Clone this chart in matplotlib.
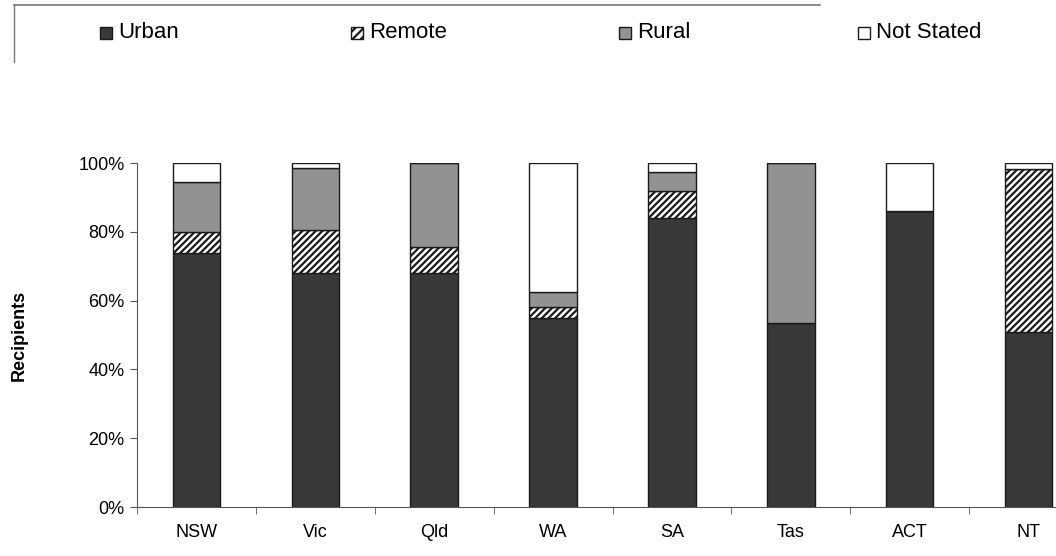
import matplotlib
matplotlib.use("Agg")
import matplotlib.pyplot as plt
from matplotlib.patches import Rectangle
from matplotlib.lines import Line2D
import numpy as np

plt.rcParams['font.family'] = ['Liberation Sans', 'DejaVu Sans']
plt.rcParams['hatch.linewidth'] = 1.6

states = ["NSW", "Vic", "Qld", "WA", "SA", "Tas", "ACT", "NT"]
urban = [73.8, 68.0, 68.0, 55.0, 84.0, 53.5, 86.0, 51.0]
remote = [6.2, 12.5, 7.6, 3.0, 8.0, 0.0, 0.0, 47.3]
rural = [14.5, 18.0, 24.4, 4.5, 5.5, 46.5, 0.0, 0.0]
not_stated = [5.5, 1.5, 0.0, 37.5, 2.5, 0.0, 14.0, 1.7]
series_names = ["Urban", "Remote", "Rural", "Not Stated"]
yticks = [0, 20, 40, 60, 80, 100]

W, H = 1056, 556
fig = plt.figure(figsize=(W / 100, H / 100), dpi=100)
ax = fig.add_axes([137 / W, (H - 507) / H, (1088 - 137) / W, 344 / H])

x = np.arange(len(states))
bw = 0.40
styles = [
    dict(color="#383838", edgecolor="#1a1a1a", hatch=None),
    dict(color="white", edgecolor="#1a1a1a", hatch="/////"),
    dict(color="#929292", edgecolor="#1a1a1a", hatch=None),
    dict(color="white", edgecolor="#1a1a1a", hatch=None),
]
bottom = np.zeros(len(states))
for vals, st in zip([urban, remote, rural, not_stated], styles):
    v = np.array(vals)
    ax.bar(x, v, bw, bottom=bottom, color=st["color"], edgecolor=st["edgecolor"],
           hatch=st["hatch"], linewidth=1.0)
    bottom += v

ax.set_xlim(-0.5, len(states) - 0.5)
ax.set_ylim(0, 100)
ax.set_yticks(yticks)
ax.set_yticklabels([f"{t}%" for t in yticks])
ax.set_xticks(x)
ax.set_xticklabels(states)
ax.set_xticks(np.arange(-0.5, len(states), 1.0), minor=True)
ax.tick_params(axis='x', which='major', length=0, pad=12, labelsize=13)
ax.tick_params(axis='x', which='minor', length=5, direction='out', color='#555555')
ax.tick_params(axis='y', length=5, direction='out', labelsize=13, pad=4, color='#555555')
for s in ["top", "right"]:
    ax.spines[s].set_visible(False)
ax.spines["left"].set_color("#555555")
ax.spines["bottom"].set_color("#555555")
ax.set_ylabel("Recipients", fontsize=13, fontweight="bold")
ax.yaxis.set_label_coords(-(137 - 28) / (1088 - 137), 0.5)

# Legend drawn at top of figure
hx = [100, 351, 619, 858]
ly = 33
for name, st, px in zip(series_names, styles, hx):
    fig.patches.append(Rectangle((px / W, (H - ly - 6) / H), 12 / W, 12 / H,
                                 transform=fig.transFigure, facecolor=st["color"],
                                 edgecolor="#1a1a1a", hatch=st["hatch"] and "////",
                                 linewidth=1.0))
    fig.text((px + 18) / W, (H - ly) / H, name, fontsize=16, va="center", ha="left")

fig.lines.append(Line2D([14 / W, 820 / W], [(H - 5) / H, (H - 5) / H],
                        transform=fig.transFigure, color="#777777", linewidth=1.2))
fig.lines.append(Line2D([14 / W, 14 / W], [(H - 5) / H, (H - 62) / H],
                        transform=fig.transFigure, color="#777777", linewidth=1.0))

fig.savefig("out.png", dpi=100)
